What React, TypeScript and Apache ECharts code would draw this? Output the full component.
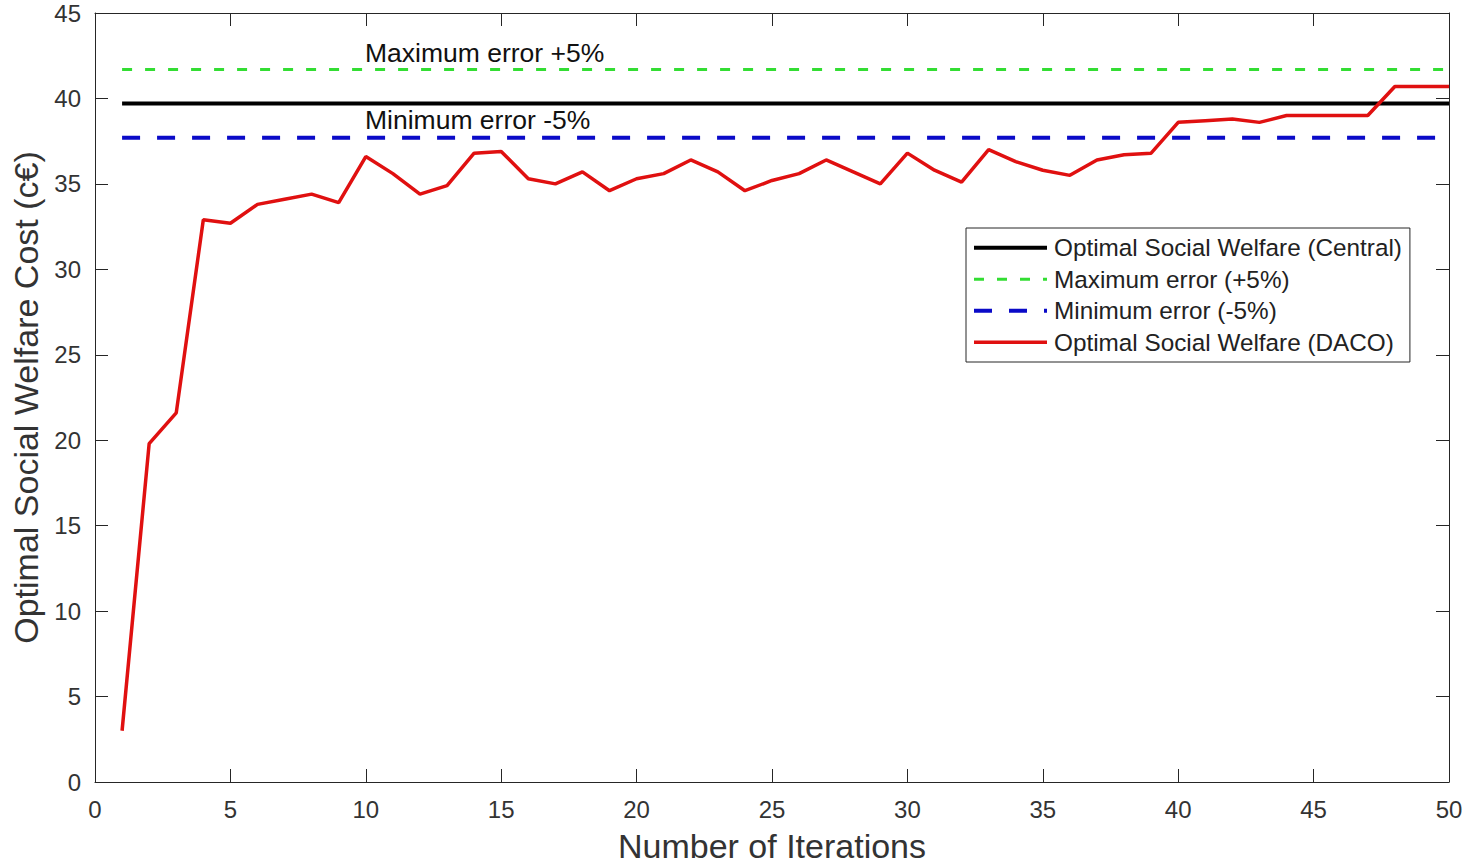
import React, { useEffect, useRef } from "react";
import * as echarts from "echarts";

const iterations: number[] = [
  1, 2, 3, 4, 5, 6, 7, 8, 9, 10, 11, 12, 13, 14, 15, 16, 17, 18, 19, 20, 21, 22, 23, 24, 25,
  26, 27, 28, 29, 30, 31, 32, 33, 34, 35, 36, 37, 38, 39, 40, 41, 42, 43, 44, 45, 46, 47, 48, 49, 50,
];
const dacoCost: number[] = [
  3.0, 19.8, 21.6, 32.9, 32.7, 33.8, 34.1, 34.4, 33.9, 36.6,
  35.6, 34.4, 34.9, 36.8, 36.9, 35.3, 35.0, 35.7, 34.6, 35.3,
  35.6, 36.4, 35.7, 34.6, 35.2, 35.6, 36.4, 35.7, 35.0, 36.8,
  35.8, 35.1, 37.0, 36.3, 35.8, 35.5, 36.4, 36.7, 36.8, 38.6,
  38.7, 38.8, 38.6, 39.0, 39.0, 39.0, 39.0, 40.7, 40.7, 40.7,
];
const lineSpan: number[] = [1, 50];
const centralCost = 39.7;
const maxErrorCost = 41.7;
const minErrorCost = 37.7;
const xTicks = { min: 0, max: 50, interval: 5 };
const yTicks = { min: 0, max: 45, interval: 5 };
const seriesNames = [
  "Optimal Social Welfare (Central)",
  "Maximum error (+5%)",
  "Minimum error (-5%)",
  "Optimal Social Welfare (DACO)",
];
const annotations = ["Maximum error +5%", "Minimum error -5%"];

const FONT = "'Liberation Sans', Arial, Helvetica, sans-serif";
const AXIS_COLOR = "#262626";

export default function App() {
  const ref = useRef<HTMLDivElement>(null);
  useEffect(() => {
    document.body.style.margin = "0";
    if (!ref.current) return;
    const chart = echarts.init(ref.current, undefined, { renderer: "svg" });
    const flat = (v: number) => lineSpan.map((x) => [x, v]);
    const axisBase = {
      type: "value" as const,
      axisLine: { show: true, onZero: false, lineStyle: { color: AXIS_COLOR, width: 1 } },
      axisTick: { show: true, inside: true, length: 13, lineStyle: { color: AXIS_COLOR, width: 1 } },
      splitLine: { show: false },
    };
    chart.setOption({
      animation: false,
      backgroundColor: "#ffffff",
      textStyle: { fontFamily: FONT },
      grid: { left: 95, right: 23, top: 13, bottom: 82, containLabel: false, outerBoundsMode: "none" },
      xAxis: [
        {
          ...axisBase,
          position: "bottom",
          ...xTicks,
          name: "Number of Iterations",
          nameLocation: "middle",
          nameGap: 47,
          nameTextStyle: { fontSize: 34, color: "#333", fontFamily: FONT },
          axisLabel: { fontSize: 24, color: "#333", margin: 15, fontFamily: FONT },
        },
        {
          ...axisBase,
          position: "top",
          ...xTicks,
          axisLabel: { show: false },
        },
      ],
      yAxis: [
        {
          ...axisBase,
          position: "left",
          ...yTicks,
          name: "Optimal Social Welfare Cost (c€)",
          nameLocation: "middle",
          nameGap: 47,
          nameTextStyle: { fontSize: 34, color: "#333", fontFamily: FONT },
          axisLabel: { fontSize: 24, color: "#333", margin: 14, fontFamily: FONT },
        },
        {
          ...axisBase,
          position: "right",
          ...yTicks,
          axisLabel: { show: false },
        },
      ],
      legend: {
        orient: "vertical",
        left: 966,
        top: 228,
        padding: [7, 8, 7, 6],
        itemGap: 6,
        itemWidth: 73,
        itemHeight: 14,
        backgroundColor: "#ffffff",
        borderColor: AXIS_COLOR,
        borderWidth: 1,
        itemStyle: { opacity: 0 },
        lineStyle: { width: "inherit" },
        textStyle: { fontSize: 24.3, color: "#222", fontFamily: FONT, lineHeight: 25.5, padding: [0, 0, 0, 2] },
        data: seriesNames,
      },
      graphic: [
        {
          type: "text",
          x: 365,
          y: 53,
          style: { text: annotations[0], fill: "#111", font: `26.5px ${FONT}`, textVerticalAlign: "middle" },
        },
        {
          type: "text",
          x: 365,
          y: 120,
          style: { text: annotations[1], fill: "#111", font: `26.5px ${FONT}`, textVerticalAlign: "middle" },
        },
      ],
      series: [
        {
          name: seriesNames[0],
          type: "line",
          data: flat(centralCost),
          symbol: "none",
          lineStyle: { color: "#000000", width: 4 },
          itemStyle: { color: "#000000" },
          z: 3,
        },
        {
          name: seriesNames[1],
          type: "line",
          data: flat(maxErrorCost),
          symbol: "none",
          lineStyle: { color: "#33dd33", width: 3, type: [10, 13] },
          itemStyle: { color: "#33dd33" },
          z: 3,
        },
        {
          name: seriesNames[2],
          type: "line",
          data: flat(minErrorCost),
          symbol: "none",
          lineStyle: { color: "#0a0ac8", width: 4, type: [18, 17] },
          itemStyle: { color: "#0a0ac8" },
          z: 3,
        },
        {
          name: seriesNames[3],
          type: "line",
          data: iterations.map((x, i) => [x, dacoCost[i]]),
          symbol: "none",
          lineStyle: { color: "#e01010", width: 3.5 },
          itemStyle: { color: "#e01010" },
          z: 4,
        },
      ],
    });
    return () => chart.dispose();
  }, []);
  return <div ref={ref} style={{ width: 1472, height: 864 }} />;
}
